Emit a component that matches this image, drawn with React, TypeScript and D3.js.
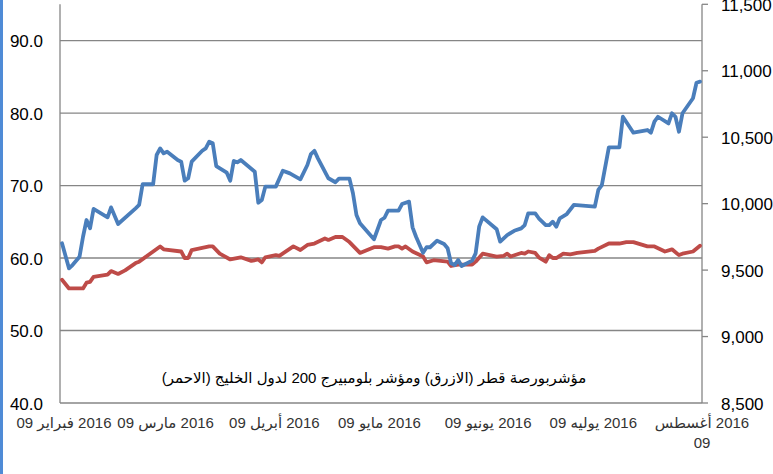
import React from 'react';
import * as d3 from 'd3';

// Qatar Exchange index (blue, right axis)
const qatarDates = [
  '2016-02-09','2016-02-11','2016-02-12','2016-02-14','2016-02-15','2016-02-16','2016-02-17','2016-02-18','2016-02-22','2016-02-23',
  '2016-02-25','2016-03-01','2016-03-02','2016-03-03','2016-03-06','2016-03-07','2016-03-08','2016-03-09','2016-03-10','2016-03-13',
  '2016-03-14','2016-03-15','2016-03-16','2016-03-17','2016-03-20','2016-03-21','2016-03-22','2016-03-23','2016-03-24','2016-03-27',
  '2016-03-28','2016-03-29','2016-03-30','2016-03-31','2016-04-04','2016-04-05','2016-04-06','2016-04-07','2016-04-10','2016-04-12',
  '2016-04-14','2016-04-17','2016-04-19','2016-04-20','2016-04-21','2016-04-22','2016-04-25','2016-04-27','2016-04-28','2016-05-01',
  '2016-05-02','2016-05-03','2016-05-04','2016-05-08','2016-05-10','2016-05-11','2016-05-12','2016-05-15','2016-05-16','2016-05-18',
  '2016-05-19','2016-05-20','2016-05-22','2016-05-23','2016-05-24','2016-05-26','2016-05-28','2016-05-29','2016-05-30','2016-05-31',
  '2016-06-01','2016-06-02','2016-06-05','2016-06-06','2016-06-07','2016-06-08','2016-06-12','2016-06-13','2016-06-15','2016-06-17',
  '2016-06-19','2016-06-20','2016-06-21','2016-06-23','2016-06-24','2016-06-26','2016-06-27','2016-06-28','2016-06-29','2016-06-30',
  '2016-07-02','2016-07-04','2016-07-10','2016-07-11','2016-07-12','2016-07-14','2016-07-17','2016-07-18','2016-07-21','2016-07-25',
  '2016-07-26','2016-07-27','2016-07-28','2016-07-31','2016-08-01','2016-08-02','2016-08-03','2016-08-04','2016-08-07','2016-08-08',
  '2016-08-09',
];
const qatarValues = [
  9702, 9513, 9538, 9601, 9751, 9877, 9814, 9960, 9897, 9972,
  9847, 9965, 9990, 10146, 10146, 10366, 10416, 10379, 10391, 10328,
  10316, 10173, 10191, 10316, 10398, 10416, 10466, 10454, 10283, 10233,
  10173, 10321, 10311, 10328, 10240, 10007, 10027, 10128, 10128, 10248,
  10228, 10183, 10291, 10373, 10398, 10341, 10191, 10161, 10188, 10188,
  10078, 9915, 9852, 9732, 9877, 9894, 9947, 9947, 9997, 10015,
  9822, 9751, 9631, 9672, 9672, 9721, 9696, 9664, 9551, 9538,
  9576, 9531, 9571, 9626, 9827, 9897, 9807, 9714, 9764, 9796,
  9814, 9839, 9927, 9927, 9890, 9839, 9839, 9864, 9827, 9890,
  9922, 9990, 9977, 10103, 10140, 10424, 10424, 10654, 10534, 10554,
  10534, 10617, 10654, 10604, 10680, 10654, 10541, 10680, 10793, 10910,
  10918,
];

// Bloomberg GCC 200 index (red, left axis)
const gccDates = [
  '2016-02-09','2016-02-11','2016-02-15','2016-02-16','2016-02-17','2016-02-18','2016-02-22','2016-02-23','2016-02-25','2016-02-27',
  '2016-03-01','2016-03-02','2016-03-08','2016-03-09','2016-03-14','2016-03-15','2016-03-16','2016-03-17','2016-03-19','2016-03-22',
  '2016-03-23','2016-03-25','2016-03-28','2016-03-31','2016-04-03','2016-04-05','2016-04-06','2016-04-07','2016-04-10','2016-04-11',
  '2016-04-15','2016-04-17','2016-04-19','2016-04-21','2016-04-24','2016-04-25','2016-04-27','2016-04-29','2016-05-01','2016-05-04',
  '2016-05-08','2016-05-10','2016-05-12','2016-05-14','2016-05-15','2016-05-16','2016-05-17','2016-05-19','2016-05-22','2016-05-23',
  '2016-05-25','2016-05-29','2016-05-30','2016-06-01','2016-06-05','2016-06-06','2016-06-08','2016-06-10','2016-06-12','2016-06-14',
  '2016-06-15','2016-06-16','2016-06-19','2016-06-20','2016-06-21','2016-06-23','2016-06-24','2016-06-26','2016-06-27','2016-06-28',
  '2016-06-29','2016-07-01','2016-07-03','2016-07-05','2016-07-10','2016-07-11','2016-07-14','2016-07-17','2016-07-19','2016-07-21',
  '2016-07-25','2016-07-27','2016-07-30','2016-08-01','2016-08-03','2016-08-04','2016-08-07','2016-08-09',
];
const gccValues = [
  57.0, 55.8, 55.8, 56.6, 56.7, 57.4, 57.7, 58.2, 57.8, 58.3,
  59.3, 59.5, 61.6, 61.2, 60.9, 60.0, 60.0, 61.1, 61.3, 61.6,
  61.6, 60.6, 59.8, 60.1, 59.6, 59.8, 59.4, 60.1, 60.4, 60.3,
  61.6, 61.1, 61.8, 62.0, 62.7, 62.5, 62.9, 62.9, 62.2, 60.7,
  61.5, 61.5, 61.3, 61.6, 61.6, 61.3, 61.6, 60.9, 60.2, 59.4,
  59.7, 59.5, 58.9, 59.1, 59.1, 59.5, 60.6, 60.4, 60.2, 60.3,
  60.6, 60.2, 60.7, 60.6, 60.9, 60.7, 60.1, 59.5, 60.4, 60.0,
  60.0, 60.6, 60.5, 60.7, 61.0, 61.3, 62.0, 62.0, 62.2, 62.2,
  61.6, 61.6, 60.9, 61.2, 60.4, 60.6, 60.9, 61.7,
];

const leftTicks = [40, 50, 60, 70, 80, 90];
const rightTicks = [8500, 9000, 9500, 10000, 10500, 11000, 11500];
const xTickDates = ['2016-02-09','2016-03-09','2016-04-09','2016-05-09','2016-06-09','2016-07-09','2016-08-09'];
const xTickLabels = [
  ['09 فبراير\u200E 2016'],
  ['09 مارس\u200E 2016'],
  ['09 أبريل\u200E 2016'],
  ['09 مايو\u200E 2016'],
  ['09 يونيو\u200E 2016'],
  ['09 يوليه\u200E 2016'],
  ['أغسطس\u200E 2016', '09'],
];
const legendText = 'مؤشربورصة قطر  (الازرق) ومؤشر بلومبيرج 200 لدول الخليج  (الاحمر)';

const W = 773;
const H = 474;
const plotLeft = 60;
const plotRight = 702;
const plotTop = 4.3;
const plotBottom = 403;

const parse = d3.timeParse('%Y-%m-%d');

export default function App() {
  const x = d3.scaleTime()
    .domain([parse('2016-02-09') as Date, parse('2016-08-09') as Date])
    .range([62, 700]);
  const yLeft = d3.scaleLinear().domain([40, 95]).range([plotBottom, plotTop]);
  const yRight = d3.scaleLinear().domain([8500, 11500]).range([plotBottom, plotTop]);

  const qatar = qatarDates.map((d, i) => ({ date: parse(d) as Date, v: qatarValues[i] }));
  const gcc = gccDates.map((d, i) => ({ date: parse(d) as Date, v: gccValues[i] }));

  const lineQ = d3.line<{ date: Date; v: number }>()
    .x(d => x(d.date))
    .y(d => yRight(d.v));
  const lineG = d3.line<{ date: Date; v: number }>()
    .x(d => x(d.date))
    .y(d => yLeft(d.v));

  const axisColor = '#868686';
  const numFont = '"Liberation Sans", Arial, sans-serif';
  const arFont = 'Arial, "Liberation Sans", "DejaVu Sans", sans-serif';

  return (
    <svg width={W} height={H} style={{ position: 'absolute', left: 0, top: 0, background: '#fff' }}>
      <rect x={0} y={0} width={W} height={H} fill="#fff" />
      <rect x={0} y={0} width={3} height={H} fill="#4f8bd6" />

      {/* gridlines */}
      {leftTicks.filter(t => t > 40).map(t => (
        <line key={t} x1={plotLeft} x2={plotRight} y1={yLeft(t)} y2={yLeft(t)} stroke={axisColor} strokeWidth={1.3} />
      ))}

      {/* axes */}
      <line x1={plotLeft} x2={plotLeft} y1={plotTop} y2={plotBottom} stroke={axisColor} strokeWidth={1.3} />
      <line x1={plotRight} x2={plotRight} y1={plotTop} y2={plotBottom} stroke={axisColor} strokeWidth={1.3} />
      <line x1={plotLeft} x2={plotRight} y1={plotBottom} y2={plotBottom} stroke={axisColor} strokeWidth={1.3} />
      {rightTicks.map(t => (
        <line key={t} x1={plotRight} x2={plotRight + 6} y1={yRight(t)} y2={yRight(t)} stroke={axisColor} strokeWidth={1.3} />
      ))}

      {/* left labels */}
      {leftTicks.map(t => (
        <text key={t} x={43} y={yLeft(t) + 6.5} textAnchor="end" fontFamily={numFont} fontSize={17} fill="#000">
          {d3.format('.1f')(t)}
        </text>
      ))}
      {/* right labels */}
      {rightTicks.map(t => (
        <text key={t} x={721} y={yRight(t) + 6.5} textAnchor="start" fontFamily={numFont} fontSize={17} fill="#000">
          {d3.format(',')(t)}
        </text>
      ))}

      {/* x labels */}
      {xTickDates.map((d, i) => (
        <g key={d}>
          {xTickLabels[i].map((line, j) => (
            <text key={j} x={x(parse(d) as Date) + 2} y={428 + j * 20} textAnchor="middle" fontFamily={arFont} fontSize={15} fill="#333">
              {line}
            </text>
          ))}
        </g>
      ))}

      {/* series */}
      <path d={lineG(gcc) || ''} fill="none" stroke="#be4b48" strokeWidth={3.8} strokeLinejoin="round" strokeLinecap="round" />
      <path d={lineQ(qatar) || ''} fill="none" stroke="#4a7ebb" strokeWidth={3.8} strokeLinejoin="round" strokeLinecap="round" />

      {/* legend */}
      <text x={374} y={383} textAnchor="middle" direction="rtl" fontFamily={arFont} fontSize={15} fill="#000">
        {legendText}
      </text>
    </svg>
  );
}
